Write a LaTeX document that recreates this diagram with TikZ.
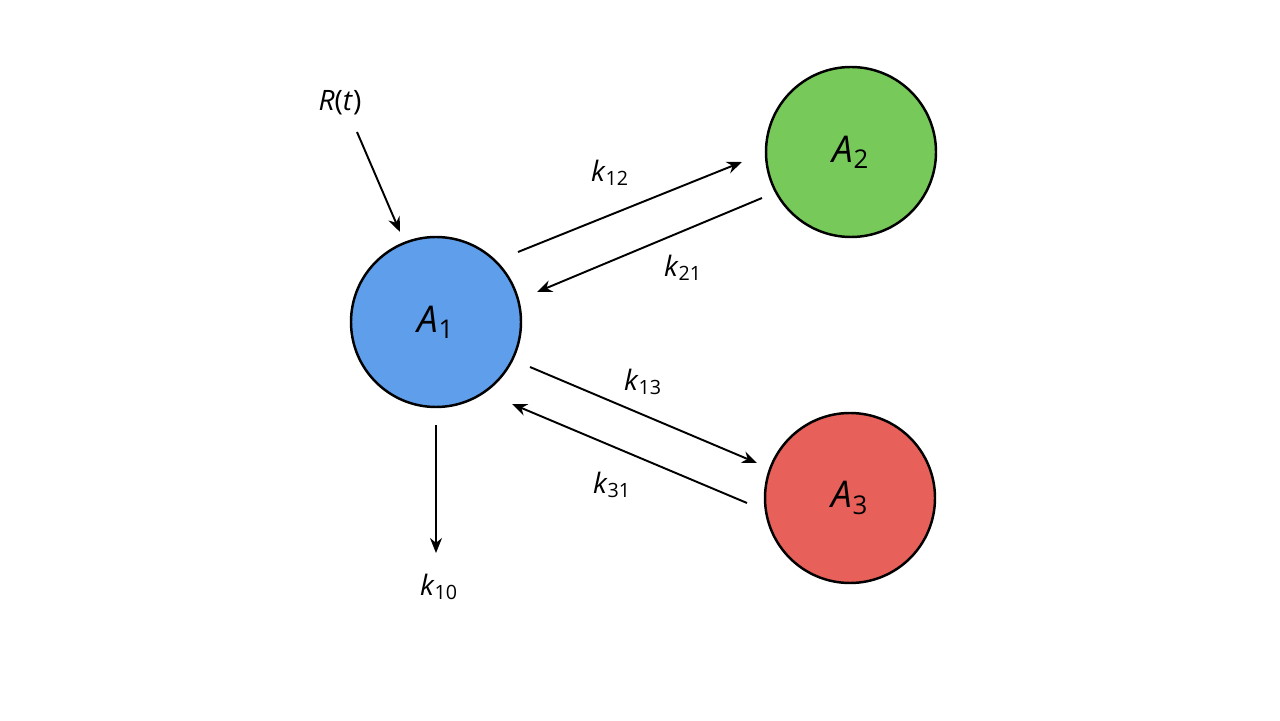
\documentclass[tikz,border=0pt]{standalone}
\usepackage{fontspec}
\setmainfont{Open Sans}
\usetikzlibrary{arrows.meta}
\definecolor{cblue}{HTML}{5E9EEA}
\definecolor{cgreen}{HTML}{77C95A}
\definecolor{cred}{HTML}{E8605A}
\tikzset{
  comp/.style={circle, draw=black, line width=1.4pt, minimum size=3.4cm, font=\fontsize{21}{25}\selectfont},
  flow/.style={-{Stealth[length=3mm,width=2.4mm]}, line width=1.1pt},
  rate/.style={font=\fontsize{16}{19}\selectfont}
}
\newcommand{\ksub}[1]{\textit{k}\textsubscript{#1}}
\begin{document}
\begin{tikzpicture}
  \useasboundingbox (0,0) rectangle (25.6,14.4);
  \node[comp, fill=cblue] (a1) at (8.72,7.96) {\textit{A}\textsubscript{1}};
  \node[comp, fill=cgreen] (a2) at (17.02,11.36) {\textit{A}\textsubscript{2}};
  \node[comp, fill=cred] (a3) at (17.0,4.44) {\textit{A}\textsubscript{3}};

  \node[rate] (rt) at (6.8,12.34) {\textit{R}(\textit{t})};
  \node[rate] (k10) at (8.78,2.66) {\ksub{10}};
  \node[rate] (l12) at (12.2,10.94) {\ksub{12}};
  \node[rate] (l21) at (13.66,9.04) {\ksub{21}};
  \node[rate] (l13) at (12.86,6.76) {\ksub{13}};
  \node[rate] (l31) at (12.24,4.7) {\ksub{31}};

  % ends of the arrows
  \coordinate (r0) at (7.14,11.76);
  \coordinate (r1) at (8.0,9.76);
  \coordinate (o0) at (8.72,5.9);
  \coordinate (o1) at (8.72,3.34);
  \coordinate (p12) at (10.36,9.36);
  \coordinate (q12) at (14.84,11.16);
  \coordinate (p21) at (15.24,10.44);
  \coordinate (q21) at (10.74,8.56);
  \coordinate (p13) at (10.6,7.06);
  \coordinate (q13) at (15.14,5.14);
  \coordinate (p31) at (14.94,4.34);
  \coordinate (q31) at (10.24,6.32);

  \draw[flow] (r0) -- (r1);
  \draw[flow] (o0) -- (o1);
  \draw[flow] (p12) -- (q12);
  \draw[flow] (p21) -- (q21);
  \draw[flow] (p13) -- (q13);
  \draw[flow] (p31) -- (q31);
\end{tikzpicture}
\end{document}
